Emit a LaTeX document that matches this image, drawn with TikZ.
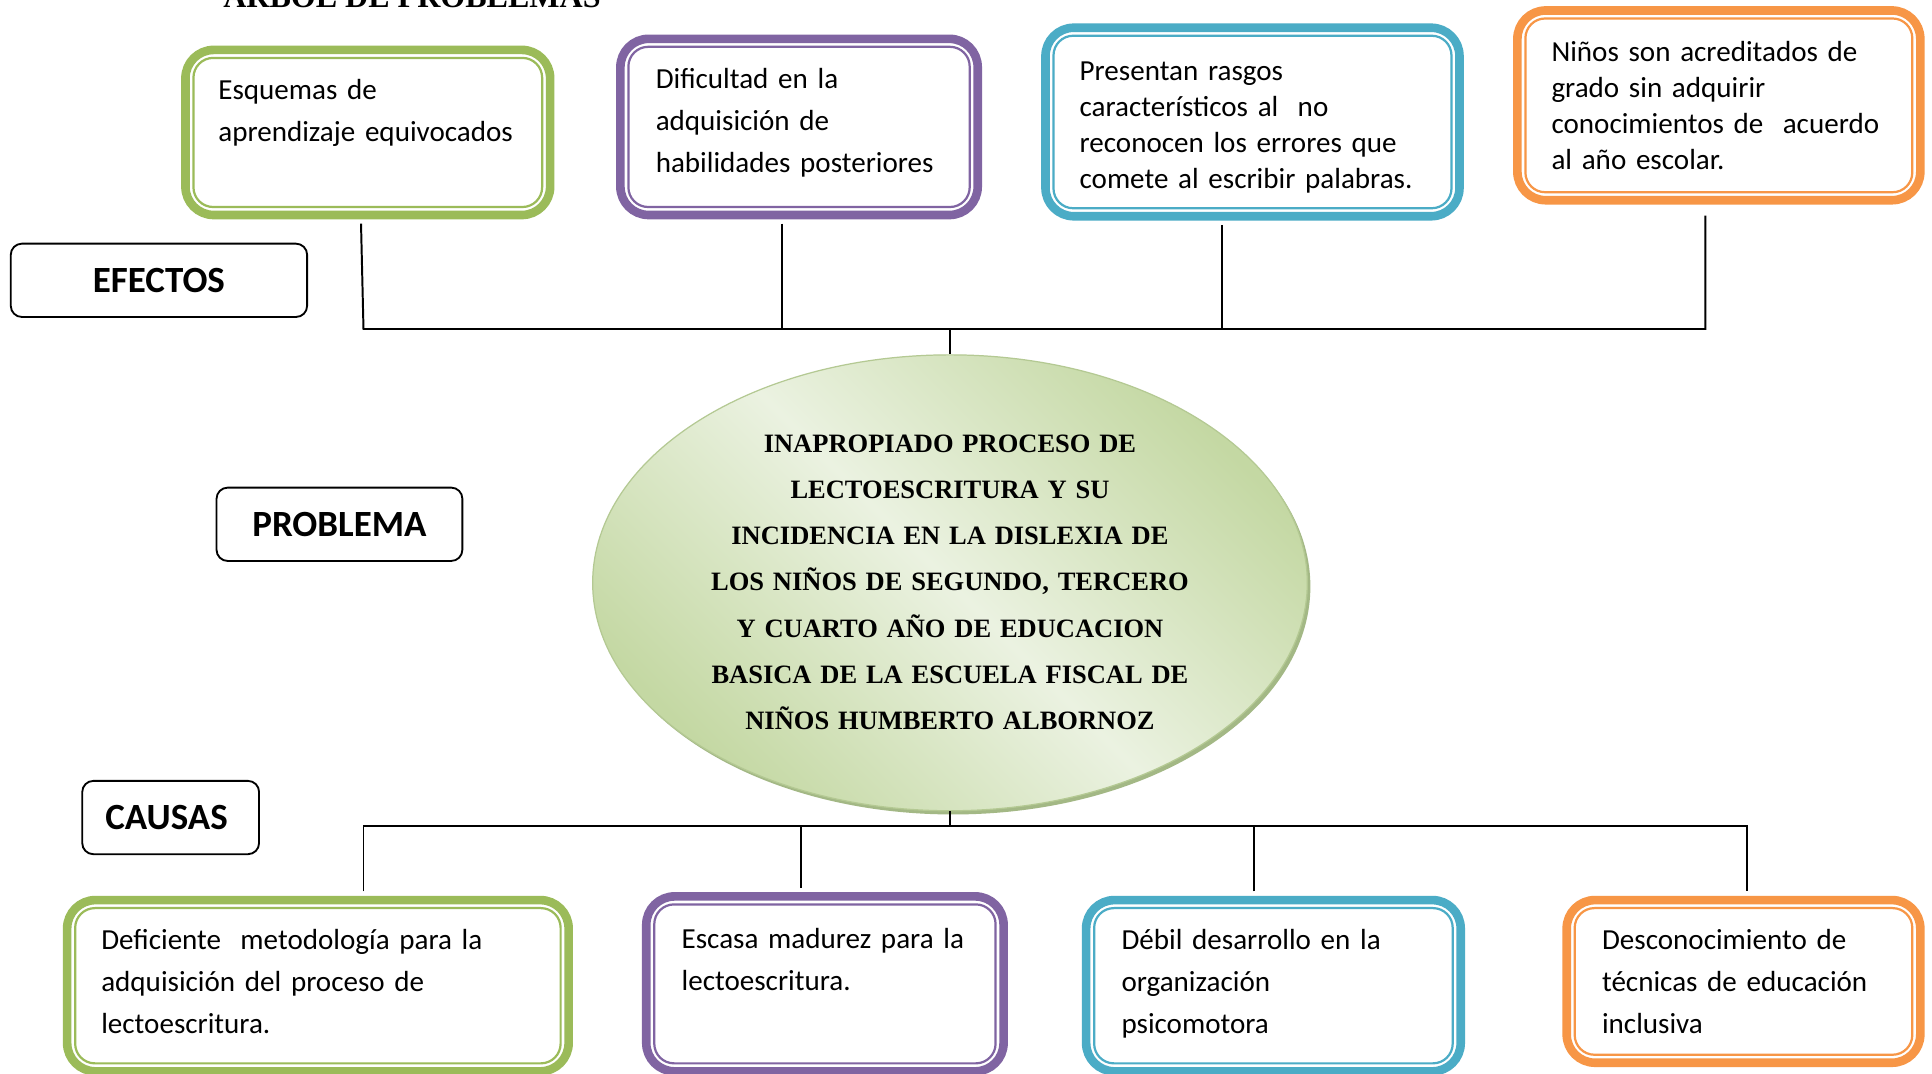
\documentclass[tikz,border=0pt]{standalone}
\usepackage{fontspec}
\setmainfont{Carlito}
\newfontfamily\tnr{Liberation Serif}
\usetikzlibrary{shapes.geometric}
\definecolor{cgreen}{HTML}{9BBB59}
\definecolor{cpurple}{HTML}{8064A2}
\definecolor{cblue}{HTML}{4BACC6}
\definecolor{corange}{HTML}{F79646}
\definecolor{elllight}{HTML}{EBF2E1}
\definecolor{elldark}{HTML}{C4D8A3}
\definecolor{ellrim}{HTML}{B4C993}
\definecolor{ellshadow}{HTML}{A3B885}
\tikzset{
  fbox/.style={draw=#1, line width=7, rounded corners=23, inner sep=0, fill=white},
  ibox/.style={draw=#1, line width=1.8, rounded corners=16, inner sep=0},
  txt/.style={anchor=base west, inner sep=0, text width=460, align=left, font=\fontsize{23.6}{34}\selectfont},
  txtb/.style={txt, font=\fontsize{23.6}{29.3}\selectfont},
  lbl/.style={draw, line width=1.5, rounded corners=9, inner sep=0, font=\bfseries\fontsize{30}{36}\selectfont, minimum height=59.5},
  conn/.style={draw=black, line width=1.6},
}
\newcommand\mybox[6]{%
  \node[fbox=#2, minimum width=#5-7, minimum height=#6-7] (#1) at (#3,#4) {};
  \node[ibox=#2, minimum width=#5-20, minimum height=#6-20] (#1in) at (#3,#4) {};
}
\begin{document}
\begin{tikzpicture}[x=1pt, y=-1pt]
\useasboundingbox (0,0) rectangle (1568,871);
\fill[white] (0,0) rectangle (1568,871);

% title (cut by the page top)
\node[anchor=base west, inner sep=0, font=\tnr\bfseries\fontsize{26}{30}\selectfont] (title) at (181,6) {ÁRBOL DE PROBLEMAS};

% top boxes (effects)
\mybox{g1}{cgreen}{298.5}{107.5}{303}{141}
\mybox{p1}{cpurple}{648.5}{103}{297}{150}
\mybox{b1}{cblue}{1016.5}{99}{343}{160}
\mybox{o1}{corange}{1395}{85.5}{334}{161}

\node[txt] (g1t) at (177,81) {Esquemas de\\aprendizaje equivocados};
\node[txt] (p1t) at (532,72) {Dificultad en la\\adquisición de\\habilidades posteriores};
\node[txtb] (b1t) at (876,65) {Presentan rasgos\\característicos al\ \ no\\reconocen los errores que\\comete al escribir palabras.};
\node[txtb] (o1t) at (1259,50) {Niños son acreditados de\\grado sin adquirir\\conocimientos de\ \ acuerdo\\al año escolar.};

% labels
\node[lbl, minimum width=240.5] (efectos) at (129,227.5) {EFECTOS};
\node[lbl, minimum width=199.5] (problema) at (275.5,425.5) {PROBLEMA};
\node[lbl, minimum width=143.5, text width=130, align=left] (causas) at (138.5,663.5) {\hspace*{12pt}CAUSAS};

% central problem
\node[ellipse, fill=ellshadow, minimum width=580, minimum height=370, inner sep=0] (probshadow) at (773.5,476) {};
\node[ellipse, draw=ellrim, line width=1, top color=elldark, bottom color=elldark, middle color=elllight, shading angle=-45, minimum width=580, minimum height=370, inner sep=0] (prob) at (771,473) {};
\node[anchor=base, inner sep=0, text width=460, align=center, font=\tnr\bfseries\fontsize{21.5}{37.5}\selectfont] (probtxt) at (771,367) {INAPROPIADO PROCESO DE\\LECTOESCRITURA Y SU\\INCIDENCIA EN LA DISLEXIA DE\\LOS NIÑOS DE SEGUNDO, TERCERO\\Y CUARTO AÑO DE EDUCACION\\BASICA DE LA ESCUELA FISCAL DE\\NIÑOS HUMBERTO ALBORNOZ};

% bottom boxes (causes)
\mybox{g2}{cgreen}{258}{800}{414}{146}
\mybox{p2}{cpurple}{669.5}{798.5}{297}{149}
\mybox{b2}{cblue}{1033.5}{800}{311}{146}
\mybox{o2}{corange}{1415}{796.5}{294}{139}

\node[txt] (g2t) at (82,771) {Deficiente\ \ metodología para la\\adquisición del proceso de\\lectoescritura.};
\node[txt] (p2t) at (553,770) {Escasa madurez para la\\lectoescritura.};
\node[txt] (b2t) at (910,771) {Débil desarrollo en la\\organización\\psicomotora};
\node[txt] (o2t) at (1300,771) {Desconocimiento de\\técnicas de educación\\inclusiva};

% top connectors
\coordinate (tL) at (295,267);
\coordinate (tM) at (771,267);
\coordinate (tR) at (1384,267);
\coordinate (o1end) at (1384,175);
\draw[conn] ([xshift=-5.5pt,yshift=-3.5pt]g1.south) -- (tL) -- (tR) -- (o1end);
\draw[conn] ([xshift=-13.5pt,yshift=-3.5pt]p1.south) -- ([xshift=-13.5pt]p1.south |- tL);
\draw[conn] ([xshift=-24.5pt,yshift=-3.5pt]b1.south) -- ([xshift=-24.5pt]b1.south |- tL);
\draw[conn] (tM) -- (prob.north);

% bottom connectors
\coordinate (bL) at (295,670);
\coordinate (bM) at (771,670);
\coordinate (bR) at (1418,670);
\draw[conn] (prob.south) -- (bM);
\draw[conn] ([xshift=37pt,yshift=3.5pt]g2.north) -- (bL) -- (bR) -- ([xshift=3pt,yshift=3.5pt]o2.north);
\draw[conn] ([xshift=-19.5pt,yshift=3.5pt]p2.north) -- ([xshift=-19.5pt]p2.north |- bL);
\draw[conn] ([xshift=-15.5pt,yshift=3.5pt]b2.north) -- ([xshift=-15.5pt]b2.north |- bL);
\end{tikzpicture}
\end{document}
